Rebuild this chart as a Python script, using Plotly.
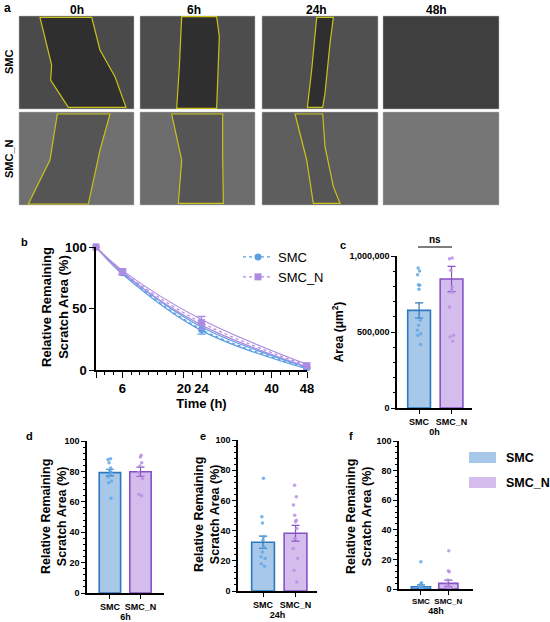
import plotly.graph_objects as go

FONT = "Arial, Liberation Sans, sans-serif"
W, H = 550, 622

BLUE_LINE = "#5b9fe3"
PURPLE_LINE = "#ad8be2"
BLUE_EDGE = "#2b78bf"
PURPLE_EDGE = "#8653c4"
BLUE_FILL = "#a8c8ea"
PURPLE_FILL = "#d4bcec"
BLUE_DOT = "#62a7e8"
PURPLE_DOT = "#b88fe6"

groups = ["SMC", "SMC_N"]

# panel b: time course
time_h = [0, 6, 24, 48]
smc_mean = [100, 79, 33, 1.8]
smc_sem = [0, 1.5, 3.8, 1.5]
smc_low = [100, 78, 32, 0.8]
smc_high = [100, 79.5, 35, 2.2]
smcn_mean = [100, 80, 38.5, 3.5]
smcn_sem = [0, 2.5, 5, 2]
smcn_low = [100, 79, 36.5, 2.5]
smcn_high = [100, 81, 41, 4.5]

# panel c: scratch area at 0h
area_mean = [642000, 849000]
area_sem = [50000, 83000]
area_smc = [921000, 901000, 877000, 811000, 807000, 781000, 577000, 544000,
            511000, 489000, 478000, 417000]
area_smcn = [987000, 982000, 906000, 794000, 772000, 763000, 763000, 664000,
             478000, 467000, 439000]

# panel d: 6h
h6_mean = [79.2, 79.8]
h6_sem = [2.2, 3.0]
h6_smc = [88.4, 87.9, 85.7, 82.2, 80.7, 79.2, 78, 76.3, 73.7, 72.6, 62.3]
h6_smcn = [90.6, 89.5, 85.7, 83.6, 79.2, 75.2, 64.9, 64]

# panel e: 24h
h24_mean = [32.3, 38.2]
h24_sem = [4.0, 5.2]
h24_smc = [74.6, 49.1, 45.1, 35.8, 33.6, 29.2, 25.9, 22.6, 21.5, 18.1, 16.4]
h24_smcn = [70.1, 62.4, 56.9, 50.2, 46.9, 45.8, 41.4, 34.7, 28.1, 21.5,
            13.7, 6]

# panel f: 48h
h48_mean = [1.5, 3.8]
h48_sem = [1.3, 2.2]
h48_smc = [18.4, 4.3, 3.4, 1.6, 0.9, 0.4, 0.2]
h48_smcn = [25.8, 12.4, 11.7, 6, 2.7, 1.6, 0.9, 0.4]


def px(x):
    return x / W


def py(y):
    return 1 - y / H


fig = go.Figure()

# ---------- panel a: micrographs drawn as placeholders ----------
cols = [(19, 134), (140, 255), (262, 378), (383, 499)]
rows = [(16, 109), (112, 205)]
bg = [["#4a4a4a", "#4d4d4d", "#505050", "#3f3f3f"],
      ["#707070", "#6c6c6c", "#5e5e5e", "#767676"]]
scratch_col = ["#2f2f2f", "#555555"]
scratches = [
    [[(120, 52), (275, 52), (300, 150), (345, 230), (378, 322), (205, 322), (152, 240), (155, 195)],
     [(545, 50), (650, 50), (658, 110), (650, 325), (530, 325), (538, 200)],
     [(950, 52), (1000, 52), (990, 130), (975, 280), (968, 322), (922, 322), (935, 210)],
     None],
    [[(172, 342), (330, 342), (300, 450), (265, 612), (85, 612), (150, 480)],
     [(515, 342), (668, 342), (668, 460), (670, 610), (535, 610), (545, 480)],
     [(885, 342), (968, 342), (975, 440), (1000, 560), (1020, 610), (940, 610), (920, 480)],
     None],
]
shapes = []
for r, (y0, y1) in enumerate(rows):
    for c, (x0, x1) in enumerate(cols):
        shapes.append(dict(type="rect", xref="paper", yref="paper",
                           x0=px(x0), x1=px(x1), y0=py(y1), y1=py(y0),
                           fillcolor=bg[r][c], line=dict(color="#bbbbbb", width=0.5),
                           layer="below"))
        poly = scratches[r][c]
        if poly:
            path = "M " + " L ".join(f"{px(a / 3):.4f},{py(b / 3):.4f}" for a, b in poly) + " Z"
            shapes.append(dict(type="path", xref="paper", yref="paper", path=path,
                               fillcolor=scratch_col[r],
                               line=dict(color="#c9c21a", width=1.2), layer="below"))

# ---------- panel b ----------
for mean, sem, low, high, col, sym, name in [
        (smc_mean, smc_sem, smc_low, smc_high, BLUE_LINE, "circle", "SMC"),
        (smcn_mean, smcn_sem, smcn_low, smcn_high, PURPLE_LINE, "square", "SMC_N")]:
    for band in (low, high):
        fig.add_trace(go.Scatter(x=time_h, y=band, mode="lines", xaxis="x", yaxis="y",
                                 line=dict(color=col, width=1.2, shape="spline"),
                                 showlegend=False, hoverinfo="skip"))
    fig.add_trace(go.Scatter(x=time_h, y=mean, mode="lines+markers", name=name,
                             xaxis="x", yaxis="y", cliponaxis=False,
                             line=dict(color=col, width=1.2, dash="dot", shape="spline"),
                             marker=dict(color=col, size=7, symbol=sym),
                             error_y=dict(type="data", array=sem, color=col,
                                          thickness=1.3, width=4)))

# ---------- bar panels c-f ----------
bar_panels = [
    ("2", area_mean, area_sem, area_smc, area_smcn),
    ("3", h6_mean, h6_sem, h6_smc, h6_smcn),
    ("4", h24_mean, h24_sem, h24_smc, h24_smcn),
    ("5", h48_mean, h48_sem, h48_smc, h48_smcn),
]
for ax, mean, sem, pts_a, pts_b in bar_panels:
    for i, (pts, fill, edge, dot) in enumerate([(pts_a, BLUE_FILL, BLUE_EDGE, BLUE_DOT),
                                               (pts_b, PURPLE_FILL, PURPLE_EDGE, PURPLE_DOT)]):
        fig.add_trace(go.Bar(x=[i], y=[mean[i]], width=0.7, xaxis="x" + ax, yaxis="y" + ax,
                             marker=dict(color=fill, line=dict(color=edge, width=1.6)),
                             error_y=dict(type="data", array=[sem[i]], color=edge,
                                          thickness=1.2, width=4),
                             showlegend=False, hoverinfo="skip"))
        fig.add_trace(go.Box(x=[i] * len(pts), y=pts, xaxis="x" + ax, yaxis="y" + ax,
                             boxpoints="all", jitter=0.5, pointpos=0, width=0.35,
                             fillcolor="rgba(0,0,0,0)",
                             line=dict(color="rgba(0,0,0,0)", width=0),
                             marker=dict(color=dot, size=3.5, opacity=0.85),
                             showlegend=False, hoverinfo="skip"))

axis_common = dict(showline=True, linecolor="black", linewidth=1.5, ticks="outside",
                   tickcolor="black", tickwidth=1.3, showgrid=False, zeroline=False,
                   tickfont=dict(family=FONT, size=9, color="black", weight="bold"))

ytitle = "<b>Relative Remaining<br>Scratch Area (%)</b>"

layout_axes = dict(
    xaxis=dict(axis_common, domain=[px(96), px(307)], range=[0, 48], anchor="y",
               tickvals=[0, 6, 20, 24, 40, 48], ticktext=[" ", "6", "20", "24", "40", "48"],
               ticklen=6, minor=dict(dtick=2, ticklen=3, ticks="outside", tickcolor="black"),
               tickfont=dict(family=FONT, size=13, color="black", weight="bold"),
               title=dict(text="Time (h)", standoff=4,
                          font=dict(family=FONT, size=13, color="black", weight="bold"))),
    yaxis=dict(axis_common, domain=[py(370), py(247)], range=[0, 100], anchor="x",
               tickvals=[0, 50, 100], ticklen=5,
               tickfont=dict(family=FONT, size=13, color="black", weight="bold")),
)

bar_geom = {
    "2": dict(xd=(397, 472), yd=(408, 256), xr=[-0.68, 1.63], yr=[0, 1000000], xt="0h",
              ytick=[0, 500000, 1000000], ylab=["0", "500,000", "1,000,000"],
              minor=100000, xfs=9),
    "3": dict(xd=(87, 164), yd=(593, 441), xr=[-0.75, 1.77], yr=[0, 100], xt="6h",
              ytick=[0, 20, 40, 60, 80, 100], ylab=None, minor=4, xfs=9),
    "4": dict(xd=(238, 317), yd=(591, 440), xr=[-0.77, 1.66], yr=[0, 100], xt="24h",
              ytick=[0, 20, 40, 60, 80, 100], ylab=None, minor=4, xfs=9),
    "5": dict(xd=(399, 473), yd=(589, 441), xr=[-0.8, 1.9], yr=[0, 100], xt="48h",
              ytick=[0, 20, 40, 60, 80, 100], ylab=None, minor=4, xfs=8),
}
for ax, g in bar_geom.items():
    layout_axes["xaxis" + ax] = dict(
        axis_common, domain=[px(g["xd"][0]), px(g["xd"][1])], range=g["xr"],
        anchor="y" + ax, tickvals=[0, 1], ticktext=groups, ticklen=4, tickangle=0,
        tickfont=dict(family=FONT, size=g["xfs"], color="black", weight="bold"),
        title=dict(text=g["xt"], standoff=2,
                   font=dict(family=FONT, size=9, color="black", weight="bold")))
    yax = dict(axis_common, domain=[py(g["yd"][0]), py(g["yd"][1])], range=g["yr"],
               anchor="x" + ax, tickvals=g["ytick"], ticklen=4,
               minor=dict(dtick=g["minor"], ticklen=2, ticks="outside", tickcolor="black"))
    if g["ylab"]:
        yax["ticktext"] = g["ylab"]
        yax["title"] = dict(text="Area (μm<sup>2</sup>)", standoff=3,
                            font=dict(family=FONT, size=12, color="black", weight="bold"))
    layout_axes["yaxis" + ax] = yax

# ns bracket on panel c
shapes.append(dict(type="line", xref="paper", yref="paper", x0=px(418), x1=px(452),
                   y0=py(247), y1=py(247), line=dict(color="#555555", width=1.5)))

# legend for panel f (boxes)
for yy, col in [(452, BLUE_FILL), (477, PURPLE_FILL)]:
    shapes.append(dict(type="rect", xref="paper", yref="paper", x0=px(469), x1=px(496),
                       y0=py(yy + 11), y1=py(yy), fillcolor=col, line=dict(width=0)))

annotations = []


def label(text, x, y, size, xanchor="center", angle=0):
    annotations.append(dict(text=text, x=px(x), y=py(y), xref="paper", yref="paper",
                            showarrow=False, xanchor=xanchor, yanchor="middle",
                            textangle=angle,
                            font=dict(family=FONT, size=size, color="black")))


label("<b>a</b>", 2, 8, 12, "left")
for txt, x in [("0h", 77), ("6h", 194), ("24h", 316), ("48h", 436)]:
    label(f"<b>{txt}</b>", x, 10, 12)
label("<b>SMC</b>", 9, 62, 11, angle=-90)
label("<b>SMC_N</b>", 9, 159, 11, angle=-90)
label("<b>b</b>", 19, 242, 11, "left")
label("<b>c</b>", 338, 245, 11, "left")
label("<b>d</b>", 24, 436, 11, "left")
label("<b>e</b>", 198, 436, 11, "left")
label("<b>f</b>", 347, 436, 11, "left")
label("<b>SMC</b>", 504, 458, 12.5, "left")
label("<b>SMC_N</b>", 504, 483, 12.5, "left")
label("<b>ns</b>", 435, 240, 10)
# y titles for panels b, d, e, f
label(ytitle, 55, 307, 13, angle=-90)
label(ytitle, 54, 517, 12.5, angle=-90)
label(ytitle, 207, 515, 12.5, angle=-90)
label(ytitle, 359, 517, 12.5, angle=-90)

fig.update_layout(
    width=W, height=H, margin=dict(l=0, r=0, t=0, b=0, autoexpand=False),
    paper_bgcolor="white", plot_bgcolor="white",
    font=dict(family=FONT, color="black"),
    barmode="overlay",
    shapes=shapes, annotations=annotations,
    legend=dict(x=px(238), y=py(242), xanchor="left", yanchor="top",
                bgcolor="rgba(0,0,0,0)", tracegroupgap=0,
                font=dict(family=FONT, size=13, color="black")),
    **layout_axes,
)

fig.write_html("out.html", config={"displayModeBar": False},
               post_script="document.body.style.margin='0';")
